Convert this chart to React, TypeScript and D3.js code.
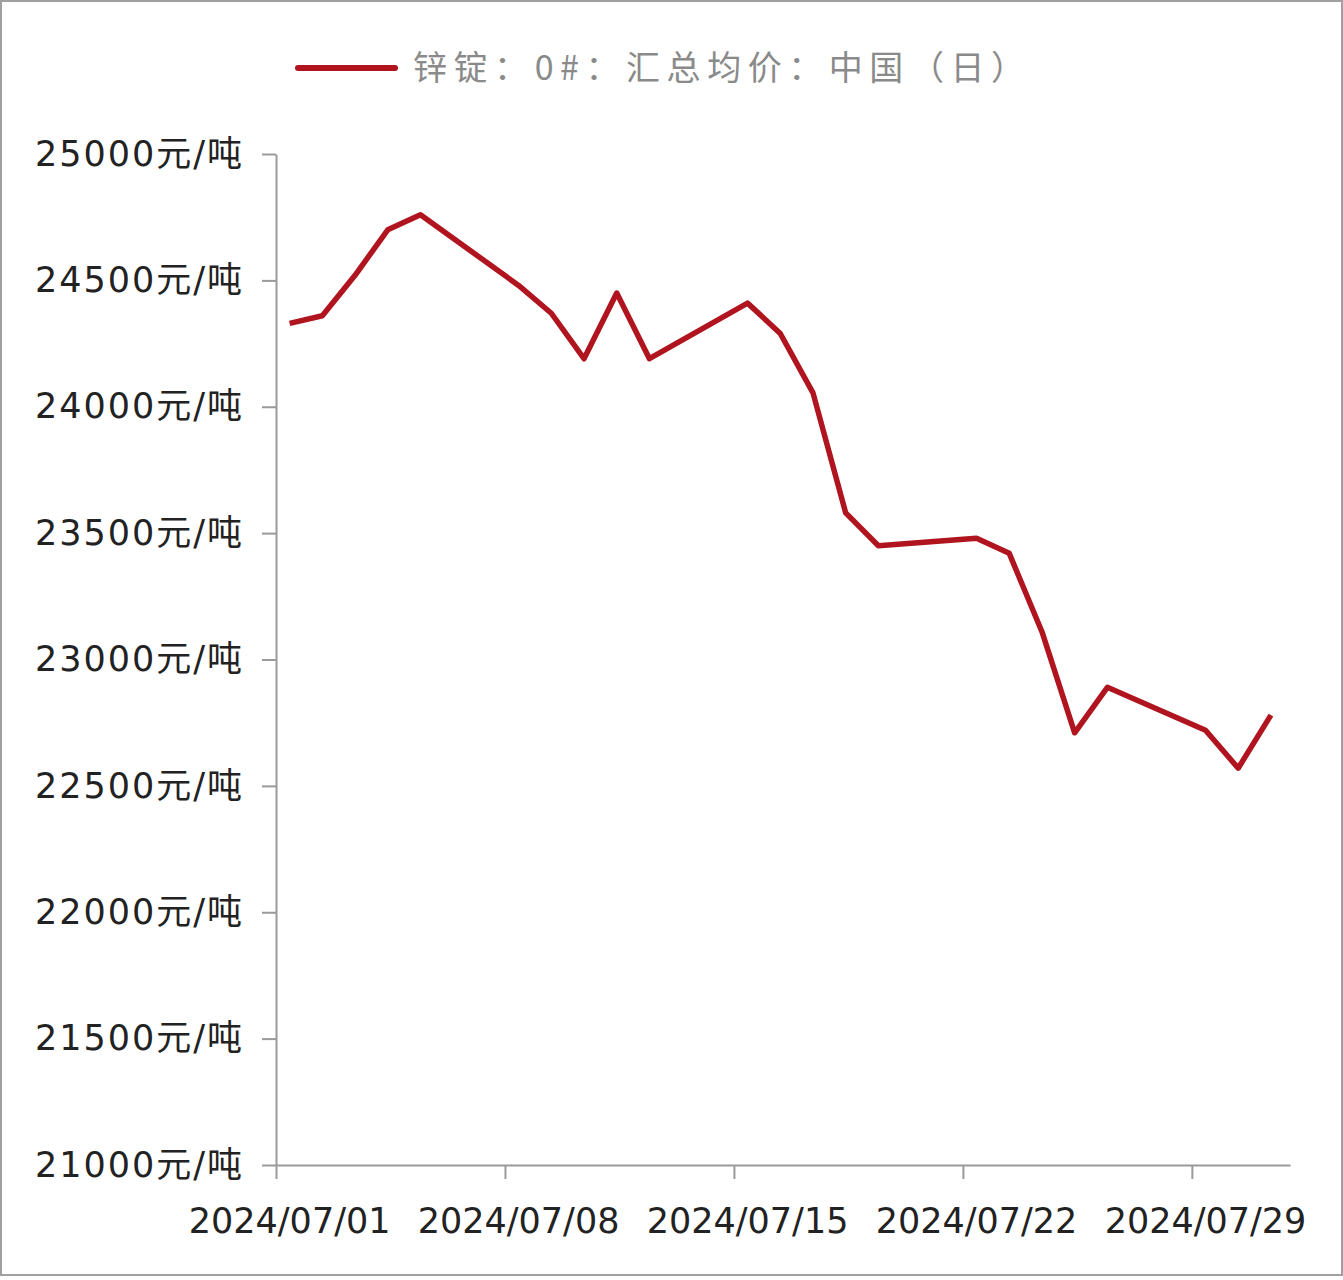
import { axisBottom, axisLeft, line, scaleLinear, scaleTime, select, timeHour } from 'd3'
import { useEffect, useRef } from 'react'

// 锌锭：0#：汇总均价：中国（日）, trading days of July 2024
const dates = [
  '2024-07-01', '2024-07-02', '2024-07-03', '2024-07-04', '2024-07-05',
  '2024-07-08', '2024-07-09', '2024-07-10', '2024-07-11', '2024-07-12',
  '2024-07-15', '2024-07-16', '2024-07-17', '2024-07-18', '2024-07-19',
  '2024-07-22', '2024-07-23', '2024-07-24', '2024-07-25', '2024-07-26',
  '2024-07-29', '2024-07-30', '2024-07-31',
]
const prices = [
  24330, 24360, 24520, 24700, 24760,
  24480, 24370, 24190, 24450, 24190,
  24410, 24290, 24055, 23580, 23450,
  23480, 23420, 23110, 22710, 22890,
  22720, 22570, 22780,
]
const yTicks = [21000, 21500, 22000, 22500, 23000, 23500, 24000, 24500, 25000]
const xTickDates = ['2024-07-01', '2024-07-08', '2024-07-15', '2024-07-22', '2024-07-29']
const seriesName = '锌锭：0#：汇总均价：中国（日）'

const W = 1343
const H = 1280
const lineColor = '#b0141e'
const axisColor = '#9a9a9a'
const font = '"DejaVu Sans", "Noto Sans CJK SC", sans-serif'

const parse = (s: string) => {
  const [y, m, d] = s.split('-').map(Number)
  return new Date(y, m - 1, d)
}

export default function App() {
  const svgRef = useRef<SVGSVGElement>(null)

  useEffect(() => {
    document.body.style.margin = '0'
    const svg = select(svgRef.current)
    svg.selectAll('*').remove()

    const x = scaleTime()
      .domain([parse('2024-07-01'), parse('2024-08-01')])
      .range([276, 1290])
    const y = scaleLinear().domain([21000, 25000]).range([1165, 154])
    // values sit a little right of the day tick
    const px = (d: Date) => x(timeHour.offset(d, 10))

    // frame
    svg
      .append('rect')
      .attr('x', 1)
      .attr('y', 1)
      .attr('width', W - 2)
      .attr('height', H - 6)
      .attr('fill', 'none')
      .attr('stroke', '#a0a0a0')
      .attr('stroke-width', 2)

    // Y axis
    const gy = svg
      .append('g')
      .attr('transform', 'translate(276,0)')
      .call(
        axisLeft(y)
          .tickValues(yTicks)
          .tickSize(14)
          .tickSizeOuter(0)
          .tickPadding(20)
          .tickFormat((d) => `${d}元/吨`)
      )
    gy.select('.domain').attr('stroke', axisColor).attr('stroke-width', 2)
    gy.selectAll('.tick line').attr('stroke', axisColor).attr('stroke-width', 2)
    gy.selectAll('.tick text')
      .attr('font-family', font)
      .attr('font-size', 35)
      .attr('fill', '#222')
      .attr('textLength', 207)
      .attr('lengthAdjust', 'spacing')

    // X axis
    const gx = svg
      .append('g')
      .attr('transform', 'translate(0,1165)')
      .call(
        axisBottom(x)
          .tickValues(xTickDates.map(parse))
          .tickSize(14)
          .tickSizeOuter(0)
          .tickFormat(() => '')
      )
    gx.select('.domain').attr('stroke', axisColor).attr('stroke-width', 2)
    gx.selectAll('.tick line').attr('stroke', axisColor).attr('stroke-width', 2)

    svg
      .append('g')
      .selectAll('text')
      .data(xTickDates.map(parse))
      .enter()
      .append('text')
      .attr('x', (d) => px(d))
      .attr('y', 1233)
      .attr('text-anchor', 'middle')
      .attr('font-family', font)
      .attr('font-size', 35)
      .attr('fill', '#222')
      .text((d) => {
        const m = String(d.getMonth() + 1).padStart(2, '0')
        const dd = String(d.getDate()).padStart(2, '0')
        return `${d.getFullYear()}/${m}/${dd}`
      })

    // Line
    const pts = dates.map((d, i) => [px(parse(d)), y(prices[i])] as [number, number])
    svg
      .append('path')
      .attr('d', line()(pts))
      .attr('fill', 'none')
      .attr('stroke', lineColor)
      .attr('stroke-width', 5.5)
      .attr('stroke-linejoin', 'round')

    // Legend
    svg
      .append('line')
      .attr('x1', 298)
      .attr('x2', 395)
      .attr('y1', 68)
      .attr('y2', 68)
      .attr('stroke', lineColor)
      .attr('stroke-width', 6)
      .attr('stroke-linecap', 'round')
    svg
      .append('text')
      .attr('x', 413)
      .attr('y', 80)
      .attr('font-family', '"Noto Sans CJK SC", sans-serif')
      .attr('font-size', 34)
      .attr('fill', '#8a8a8a')
      .attr('textLength', 612)
      .attr('lengthAdjust', 'spacing')
      .text(seriesName)
  }, [])

  return <svg ref={svgRef} width={W} height={H} style={{ display: 'block', background: '#fff' }} />
}
